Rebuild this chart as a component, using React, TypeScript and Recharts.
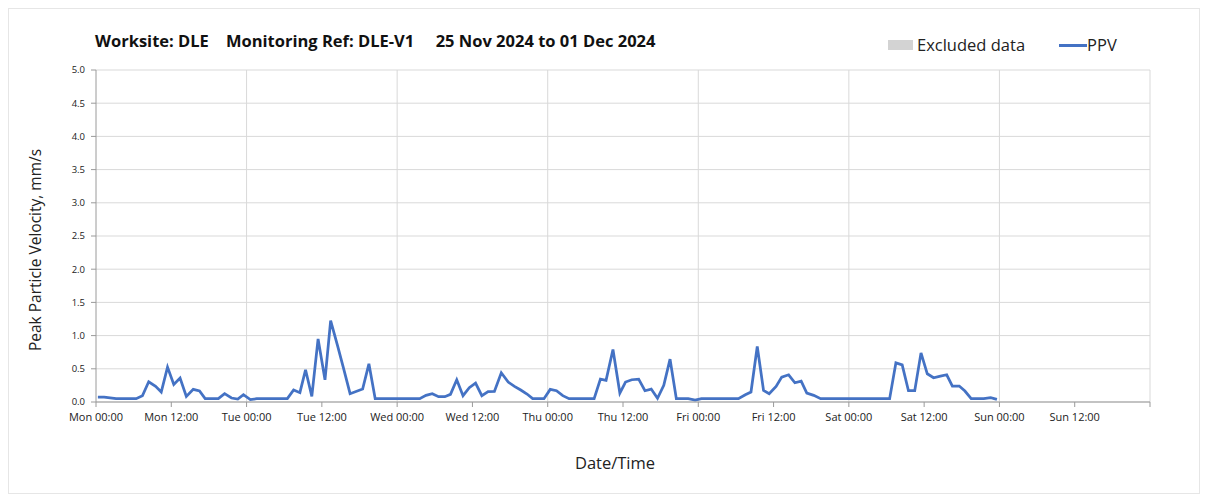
import { LineChart, Line, XAxis, YAxis, CartesianGrid } from "recharts";

// hours since Mon 25 Nov 2024 00:00
const hours = [
  0.3, 1.3, 3.2, 6.4, 7.4, 8.4, 9.5, 10.4, 11.4, 12.4, 13.4, 14.4, 15.5, 16.5, 17.4, 19.5, 20.5, 21.6,
  22.6, 23.5, 24.6, 25.6, 30.5, 31.5, 32.5, 33.4, 34.4, 35.4, 36.5, 37.4, 38.5, 39.5, 40.5, 42.5, 43.5,
  44.5, 51.6, 52.6, 53.6, 54.6, 55.6, 56.5, 57.5, 58.5, 59.5, 60.5, 61.5, 62.5, 63.5, 64.6, 65.7, 66.7,
  67.7, 68.7, 69.6, 71.4, 72.4, 73.4, 74.4, 75.4, 79.4, 80.4, 81.3, 82.4, 83.5, 84.4, 85.4, 86.5, 87.5,
  88.5, 89.5, 90.5, 91.5, 92.5, 94.4, 95.5, 96.5, 102.4, 103.5, 104.4, 105.4, 106.4, 107.3, 108.4,
  109.3, 110.4, 111.4, 112.4, 113.3, 114.4, 115.5, 126.5, 127.5, 128.5, 129.5, 130.5, 131.5, 132.5,
  133.5, 134.6, 135.6, 136.5, 137.6, 138.5, 139.5, 141.5, 142.6, 143.6,
];

const ppv = [
  0.075, 0.075, 0.05, 0.05, 0.095, 0.305, 0.235, 0.15, 0.525, 0.265, 0.36, 0.085, 0.19, 0.165, 0.05,
  0.05, 0.125, 0.06, 0.045, 0.11, 0.035, 0.05, 0.05, 0.18, 0.14, 0.485, 0.085, 0.95, 0.335, 1.225, 0.85,
  0.49, 0.125, 0.195, 0.575, 0.05, 0.05, 0.1, 0.125, 0.08, 0.08, 0.115, 0.335, 0.095, 0.215, 0.285,
  0.095, 0.155, 0.16, 0.44, 0.3, 0.235, 0.18, 0.12, 0.05, 0.05, 0.19, 0.17, 0.095, 0.05, 0.05, 0.345,
  0.325, 0.79, 0.135, 0.3, 0.335, 0.345, 0.17, 0.195, 0.055, 0.25, 0.645, 0.05, 0.05, 0.03, 0.05, 0.05,
  0.11, 0.15, 0.835, 0.175, 0.125, 0.235, 0.375, 0.41, 0.29, 0.315, 0.135, 0.1, 0.05, 0.05, 0.59, 0.56,
  0.17, 0.17, 0.74, 0.425, 0.365, 0.39, 0.41, 0.24, 0.24, 0.165, 0.05, 0.05, 0.065, 0.04,
];

const dayNames = ["Mon", "Tue", "Wed", "Thu", "Fri", "Sat", "Sun"];
const xTicks = [0, 12, 24, 36, 48, 60, 72, 84, 96, 108, 120, 132, 144, 156, 168];
const dayLines = [24, 48, 72, 96, 120, 144, 168];
const yTicks = [0, 0.5, 1, 1.5, 2, 2.5, 3, 3.5, 4, 4.5, 5];

const title = "Worksite: DLE    Monitoring Ref: DLE-V1     25 Nov 2024 to 01 Dec 2024";

const data = hours.map((h, i) => ({ h, ppv: ppv[i] }));

const FONT = "'Open Sans', sans-serif";
const BLUE = "#4472c4";

function fmtTick(h: number) {
  if (h >= 168) return "";
  const day = dayNames[Math.floor(h / 24)];
  return `${day} ${h % 24 === 0 ? "00:00" : "12:00"}`;
}

export default function App() {
  return (
    <div
      style={{
        position: "relative",
        width: 1192,
        height: 486,
        border: "1px solid #e6e6e6",
        boxSizing: "border-box",
        background: "#fff",
        fontFamily: FONT,
      }}
    >
      <div
        style={{
          position: "absolute",
          left: 86,
          top: 22,
          fontSize: 16.5,
          fontWeight: 700,
          color: "#111",
          whiteSpace: "pre",
          lineHeight: "20px",
        }}
      >
        {title}
      </div>
      {/* legend */}
      <div
        style={{
          position: "absolute",
          left: 879,
          top: 26,
          display: "flex",
          alignItems: "center",
          fontSize: 16.5,
          color: "#222",
          lineHeight: "20px",
        }}
      >
        <span style={{ width: 25, height: 10, background: "#d3d3d3", display: "inline-block", marginRight: 4 }} />
        <span style={{ marginRight: 34 }}>Excluded data</span>
        <span style={{ width: 28, height: 3, background: BLUE, display: "inline-block" }} />
        <span>PPV</span>
      </div>
      <div
        style={{
          position: "absolute",
          left: 26,
          top: 241,
          transform: "translate(-50%, -50%) rotate(-90deg)",
          fontSize: 15.5,
          color: "#222",
          whiteSpace: "nowrap",
        }}
      >
        Peak Particle Velocity, mm/s
      </div>
      <div
        style={{
          position: "absolute",
          left: 606,
          top: 442,
          transform: "translateX(-50%)",
          fontSize: 16.5,
          color: "#222",
        }}
      >
        Date/Time
      </div>
      <LineChart
        width={1190}
        height={479}
        data={data}
        margin={{ top: 61, right: 49, left: 27, bottom: 56 }}
        style={{ position: "absolute", left: 0, top: 0 }}
      >
        <CartesianGrid stroke="#d9d9d9" horizontalValues={yTicks} verticalValues={dayLines} />
        <XAxis
          dataKey="h"
          type="number"
          domain={[0, 168]}
          ticks={xTicks}
          tickFormatter={fmtTick}
          interval={0}
          height={30}
          stroke="#9a9a9a"
          tickSize={5}
          tickMargin={6}
          tick={{ fontSize: 11, fill: "#222", fontFamily: FONT }}
        />
        <YAxis
          type="number"
          domain={[0, 5]}
          ticks={yTicks}
          width={60}
          stroke="#9a9a9a"
          tickSize={5}
          tickMargin={6}
          tickFormatter={(v: number) => v.toFixed(1)}
          tick={{ fontSize: 9.5, fill: "#222", fontFamily: FONT }}
        />
        <Line
          type="linear"
          dataKey="ppv"
          name="PPV"
          stroke={BLUE}
          strokeWidth={2.75}
          dot={false}
          isAnimationActive={false}
        />
      </LineChart>
    </div>
  );
}
